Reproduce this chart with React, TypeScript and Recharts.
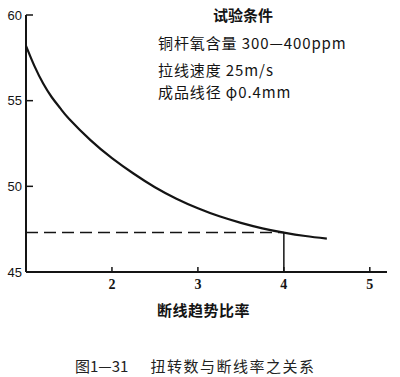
import React from 'react';
import { LineChart, Line, XAxis, YAxis, ReferenceLine } from 'recharts';

// twist ratio (x) vs breakage value (y)
const ratio = [1.0, 1.1, 1.2, 1.3, 1.4, 1.5, 1.75, 2.0, 2.25, 2.5, 2.75, 3.0, 3.25, 3.5, 3.75, 4.0, 4.25, 4.5];
const twist = [58.2, 57.0, 56.0, 55.2, 54.55, 53.95, 52.7, 51.65, 50.75, 49.95, 49.28, 48.72, 48.25, 47.87, 47.55, 47.3, 47.1, 46.95];

const xTicks = [2, 3, 4, 5];
const yTicks = [45, 50, 55, 60];

const markX = 4;
const markY = 47.3;

const conditionTitle = '试验条件';
const conditionLines = ['铜杆氧含量 300—400ppm', '拉线速度 25m/s', '成品线径 φ0.4mm'];
const xLabel = '断线趋势比率';
const figNo = '图1—31';
const figTitle = '扭转数与断线率之关系';

const data = ratio.map((r, i) => ({ r, v: twist[i] }));

const cjk = "'Noto Sans CJK SC', 'DejaVu Sans', sans-serif";
const ink = '#141414';

export default function App() {
  return (
    <div style={{ position: 'absolute', left: 0, top: 0, width: 400, height: 377, background: '#fff' }}>
      <LineChart width={400} height={377} data={data} margin={{ top: 15, right: 13, left: 0, bottom: 75 }}>
        <XAxis
          dataKey="r"
          type="number"
          domain={[1, 5.2]}
          ticks={xTicks}
          allowDataOverflow
          height={30}
          tickSize={-5}
          tickMargin={12}
          axisLine={{ stroke: ink, strokeWidth: 2 }}
          tickLine={{ stroke: ink, strokeWidth: 1.5 }}
          tick={{ fill: ink, fontSize: 14, fontFamily: "'Liberation Serif', serif", fontWeight: 700 }}
        />
        <YAxis
          type="number"
          domain={[45, 60]}
          ticks={yTicks}
          width={26}
          tickSize={-7}
          tickMargin={11}
          axisLine={{ stroke: ink, strokeWidth: 2 }}
          tickLine={{ stroke: ink, strokeWidth: 1.5 }}
          tick={{ fill: ink, fontSize: 13, fontFamily: "'Liberation Sans', sans-serif" }}
        />
        <ReferenceLine
          segment={[{ x: 1, y: markY }, { x: markX, y: markY }]}
          stroke={ink}
          strokeWidth={1.5}
          strokeDasharray="12 6"
        />
        <ReferenceLine
          segment={[{ x: markX, y: 45 }, { x: markX, y: markY }]}
          stroke={ink}
          strokeWidth={1.5}
        />
        <Line
          type="natural"
          dataKey="v"
          stroke={ink}
          strokeWidth={2.2}
          dot={false}
          isAnimationActive={false}
        />
      </LineChart>

      <div style={{ position: 'absolute', left: 213, top: 5, fontFamily: cjk, fontSize: 15, fontWeight: 700, lineHeight: '20px', color: ink }}>
        {conditionTitle}
      </div>
      {conditionLines.map((t, i) => (
        <div
          key={t}
          style={{
            position: 'absolute',
            left: 158,
            top: [33, 60, 82][i],
            fontFamily: cjk,
            fontSize: 15,
            lineHeight: '20px',
            color: ink,
            whiteSpace: 'pre',
            letterSpacing: 0.9,
          }}
        >
          {t}
        </div>
      ))}
      <div style={{ position: 'absolute', left: 157, top: 300, fontFamily: cjk, fontSize: 15, fontWeight: 700, lineHeight: '20px', color: ink, letterSpacing: 0.5 }}>
        {xLabel}
      </div>
      <div style={{ position: 'absolute', left: 75, top: 356, fontFamily: cjk, fontSize: 15, lineHeight: '20px', color: '#222', whiteSpace: 'pre' }}>
        {figNo}
        <span style={{ marginLeft: 22, letterSpacing: 1.5 }}>{figTitle}</span>
      </div>
    </div>
  );
}
